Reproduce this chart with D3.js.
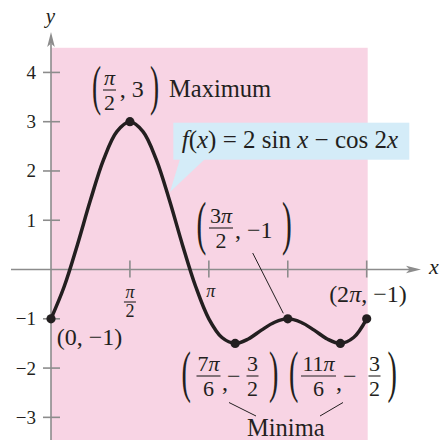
<!DOCTYPE html>
<html>
<head>
<meta charset="utf-8">
<script src="https://cdn.jsdelivr.net/npm/d3@7"></script>
<style>
  body { margin: 0; background: #fff; }
  svg { display: block; }
</style>
</head>
<body>
<div id="chart"></div>
<script>
// curve samples (x given in multiples of pi)
const curveXPi = [0, 0.083, 0.167, 0.25, 0.333, 0.417, 0.5, 0.583, 0.667, 0.75, 0.833, 0.917, 1,
  1.083, 1.167, 1.25, 1.333, 1.417, 1.5, 1.583, 1.667, 1.75, 1.833, 1.917, 2];
const curveY = [-1, -0.35, 0.5, 1.41, 2.23, 2.8, 3, 2.8, 2.23, 1.41, 0.5, -0.35, -1,
  -1.38, -1.5, -1.41, -1.23, -1.07, -1, -1.07, -1.23, -1.41, -1.5, -1.38, -1];

// marked points: endpoints, maximum, minima
const markXPi = [0, 0.5, 1.1667, 1.5, 1.8333, 2];
const markY = [-1, 3, -1.5, -1, -1.5, -1];

const yTicks = [-3, -2, -1, 1, 2, 3, 4];
const yTickLabels = ["\u22123", "\u22122", "\u22121", "1", "2", "3", "4"];
const xTicksPi = [0.5, 1, 1.5, 2];

const W = 439, H = 440;
const ink = "#231f20";
const axisGrey = "#8c8c8c";
const pink = "#f8d4e4";
const blue = "#d4ecf8";
const serif = "'Liberation Serif', 'DejaVu Serif', serif";

const x = d3.scaleLinear().domain([0, 2 * Math.PI]).range([51, 366.7]);
const y = d3.scaleLinear().domain([-1, 3]).range([318.8, 121.7]);

const svg = d3.select("#chart").append("svg")
  .attr("width", W)
  .attr("height", H)
  .attr("font-family", serif)
  .attr("fill", ink);

// shaded domain
svg.append("rect")
  .attr("x", x(0))
  .attr("y", y(4.5))
  .attr("width", x(2 * Math.PI) - x(0) + 1)
  .attr("height", H - y(4.5))
  .attr("fill", pink);

// text helper: parts = [[string, italic?], ...]
function txt(g, px, py, size, parts, anchor) {
  const t = g.append("text")
    .attr("x", px).attr("y", py)
    .attr("font-size", size)
    .attr("font-family", serif)
    .attr("fill", ink)
    .attr("text-anchor", anchor || "start");
  parts.forEach(p => {
    const s = t.append("tspan").text(p[0]);
    if (p[1]) s.attr("font-style", "italic");
  });
  return t;
}

function frac(g, cx, barY, num, den, w, size, up, down) {
  txt(g, cx, barY - up, size, num, "middle");
  g.append("line")
    .attr("x1", cx - w / 2).attr("x2", cx + w / 2)
    .attr("y1", barY).attr("y2", barY)
    .attr("stroke", ink).attr("stroke-width", 1.1);
  txt(g, cx, barY + down, size, den, "middle");
}

// tall thin parenthesis spanning top..bottom
function paren(g, ch, px, top, bottom) {
  const fs = (bottom - top) / 0.853;
  g.append("text")
    .attr("transform", `translate(${px},${bottom - 0.177 * fs}) scale(0.5,1)`)
    .attr("font-size", fs)
    .attr("font-family", serif)
    .attr("fill", ink)
    .text(ch);
}

// axes
const axes = svg.append("g");
axes.append("line")
  .attr("x1", 11).attr("x2", 410)
  .attr("y1", y(0)).attr("y2", y(0))
  .attr("stroke", axisGrey).attr("stroke-width", 1.6);
axes.append("path")
  .attr("d", `M421,${y(0)} L406,${y(0) - 3.8} L409.5,${y(0)} L406,${y(0) + 3.8} Z`)
  .attr("fill", axisGrey);
axes.append("line")
  .attr("x1", x(0)).attr("x2", x(0))
  .attr("y1", H).attr("y2", 44)
  .attr("stroke", axisGrey).attr("stroke-width", 1.6);
axes.append("path")
  .attr("d", `M${x(0)},32 L${x(0) - 3.8},47 L${x(0)},43.5 L${x(0) + 3.8},47 Z`)
  .attr("fill", axisGrey);

axes.selectAll(".ytick").data(yTicks).join("line")
  .attr("x1", x(0) - 8).attr("x2", x(0) + 9)
  .attr("y1", d => y(d)).attr("y2", d => y(d))
  .attr("stroke", axisGrey).attr("stroke-width", 1.6);
axes.selectAll(".xtick").data(xTicksPi).join("line")
  .attr("x1", d => x(d * Math.PI)).attr("x2", d => x(d * Math.PI))
  .attr("y1", y(0) - 9).attr("y2", y(0) + 8)
  .attr("stroke", axisGrey).attr("stroke-width", 1.6);

yTicks.forEach((v, i) => {
  txt(svg, 36, y(v) + 6.5, 19, [[yTickLabels[i]]], "end");
});

txt(svg, 50.5, 23, 21, [["y", 1]], "middle");
txt(svg, 429, 274, 22, [["x", 1]]);

// x tick labels pi/2 and pi
frac(svg, x(0.5 * Math.PI), 302, [["\u03c0", 1]], [["2"]], 12, 18, 4, 15);
txt(svg, x(Math.PI) + 2, 297, 18, [["\u03c0", 1]], "middle");

// callout
svg.append("path")
  .attr("d", "M180,159 L205,159 L170,192 Z")
  .attr("fill", blue);
svg.append("rect")
  .attr("x", 173.3).attr("y", 122.7)
  .attr("width", 236).attr("height", 37)
  .attr("fill", blue);
txt(svg, 181.7, 148, 25, [["f", 1], ["("], ["x", 1], [") = 2 sin "], ["x", 1], [" \u2212 cos 2"], ["x", 1]]);

// curve
const line = d3.line()
  .x((d, i) => x(curveXPi[i] * Math.PI))
  .y(d => y(d))
  .curve(d3.curveCatmullRom.alpha(0.5));
svg.append("path")
  .datum(curveY)
  .attr("d", line)
  .attr("fill", "none")
  .attr("stroke", ink)
  .attr("stroke-width", 3.5)
  .attr("stroke-linejoin", "round");

svg.selectAll(".mark").data(markY).join("circle")
  .attr("cx", (d, i) => x(markXPi[i] * Math.PI))
  .attr("cy", d => y(d))
  .attr("r", 4.6)
  .attr("fill", ink);

// leader lines
const leaders = [[252.7, 253, 283.3, 313.3], [229, 402.5, 256, 416], [343, 402.5, 320, 416]];
svg.selectAll(".leader").data(leaders).join("line")
  .attr("x1", d => d[0]).attr("y1", d => d[1])
  .attr("x2", d => d[2]).attr("y2", d => d[3])
  .attr("stroke", ink).attr("stroke-width", 1);

// maximum label
paren(svg, "(", 92, 66.7, 113.3);
frac(svg, 109.5, 90, [["\u03c0", 1]], [["2"]], 13, 22, 5, 20);
txt(svg, 119.7, 97, 24, [[", 3"]]);
paren(svg, ")", 150, 66.7, 113.3);
txt(svg, 169, 97, 24.5, [["Maximum"]]);

// (3pi/2, -1)
paren(svg, "(", 196.5, 203, 253);
frac(svg, 221, 228, [["3"], ["\u03c0", 1]], [["2"]], 24, 22, 5, 20);
txt(svg, 235, 238, 24, [[", \u22121"]]);
paren(svg, ")", 282, 203, 253);

// endpoints
txt(svg, 406.7, 302, 24, [["(2"], ["\u03c0", 1], [", \u22121)"]], "end");
txt(svg, 56.7, 345, 24, [["(0, \u22121)"]]);

// (7pi/6, -3/2)
paren(svg, "(", 181.5, 353, 401);
frac(svg, 208.5, 376, [["7"], ["\u03c0", 1]], [["6"]], 24, 22, 5, 20);
txt(svg, 222, 390, 24, [[","]]);
txt(svg, 227, 384, 24, [["\u2212"]]);
frac(svg, 252.5, 376, [["3"]], [["2"]], 12, 22, 5, 20);
paren(svg, ")", 269, 353, 401);

// (11pi/6, -3/2)
paren(svg, "(", 289, 353, 401);
frac(svg, 318.5, 376, [["11"], ["\u03c0", 1]], [["6"]], 35, 22, 5, 20);
txt(svg, 336, 390, 24, [[","]]);
txt(svg, 343, 384, 24, [["\u2212"]]);
frac(svg, 374.5, 376, [["3"]], [["2"]], 12, 22, 5, 20);
paren(svg, ")", 387.5, 353, 401);

txt(svg, 247, 436, 24.5, [["Minima"]]);
</script>
</body>
</html>
